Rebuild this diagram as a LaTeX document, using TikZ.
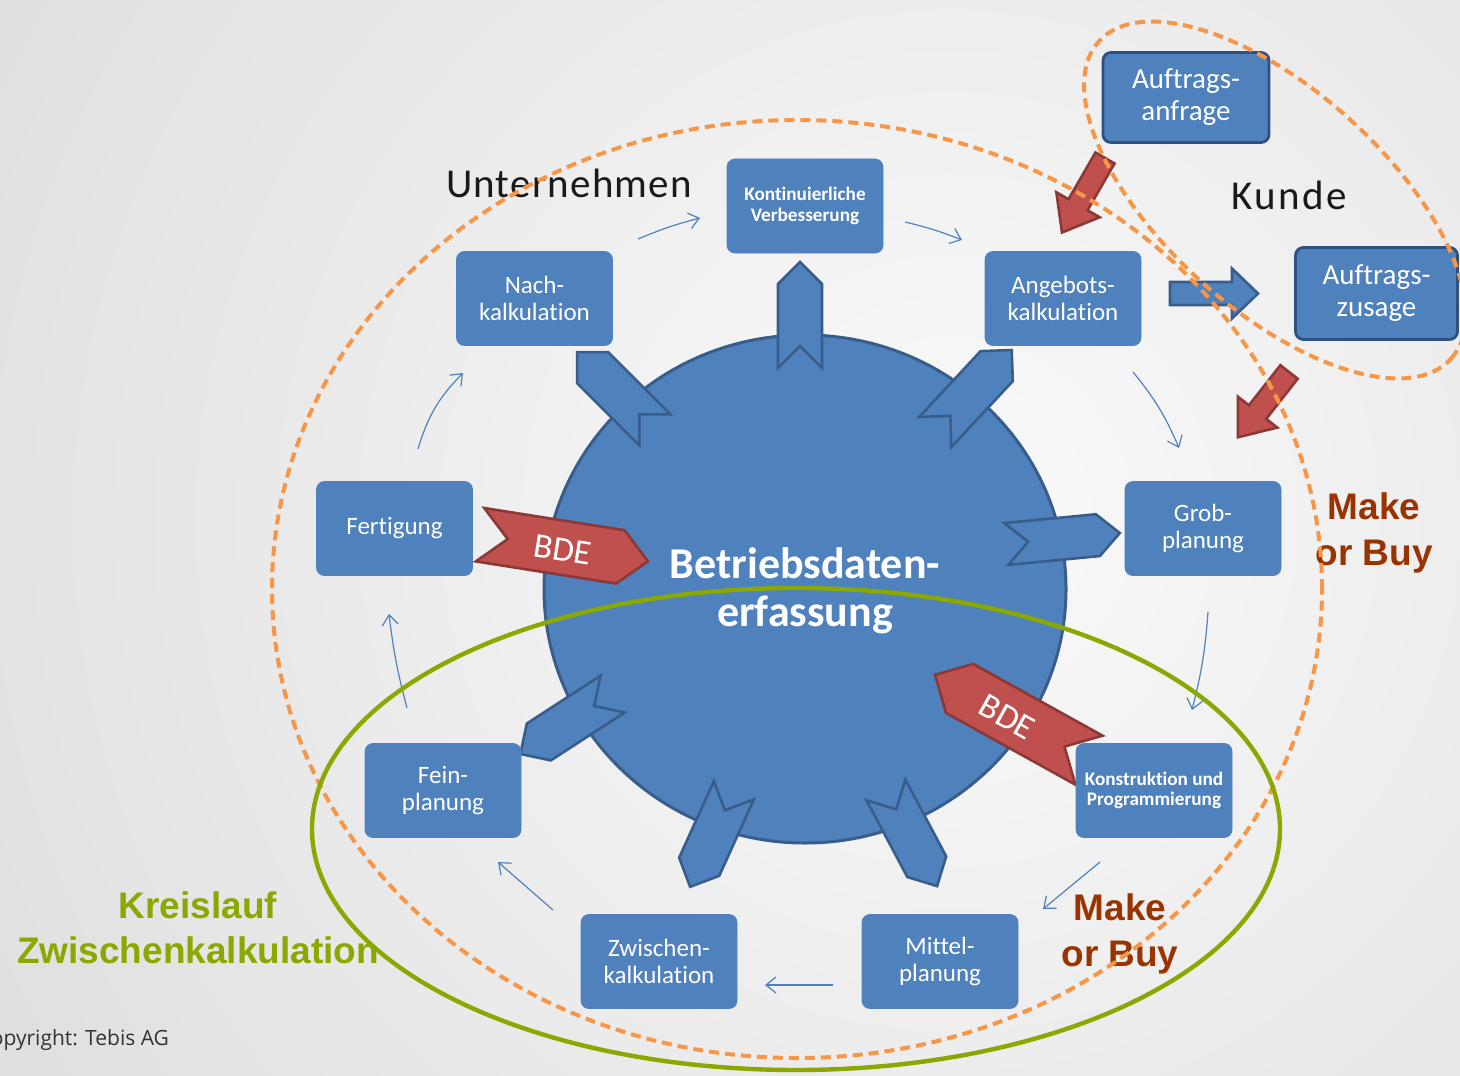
\documentclass[tikz,border=0pt]{standalone}
\usepackage{fontspec}
\setmainfont{Carlito}[Ligatures=NoCommon]
\newfontfamily\arialfont{Liberation Sans}
\newfontfamily\copyfont{Open Sans}
\usetikzlibrary{arrows.meta,shapes.geometric}

\definecolor{boxblue}{HTML}{4F81BD}
\definecolor{boxedge}{HTML}{385D8A}
\definecolor{custedge}{HTML}{2C5182}
\definecolor{redfill}{HTML}{C0504D}
\definecolor{rededge}{HTML}{8C3836}
\definecolor{orangedash}{HTML}{F79646}
\definecolor{kreisgreen}{HTML}{8AA800}
\definecolor{makebuy}{HTML}{993300}
\definecolor{bgedge}{HTML}{C9C9C9}
\definecolor{bgcenter}{HTML}{FAFAFA}

\tikzset{
  procbox/.style={rounded corners=4pt, fill=boxblue, draw=boxblue, minimum width=78pt,
    minimum height=47pt, inner sep=0pt, align=center, text=white,
    font=\fontsize{12.5}{13.5}\selectfont},
  smallbox/.style={procbox, font=\bfseries\fontsize{9.6}{10.3}\selectfont},
  custbox/.style={procbox, draw=custedge, line width=1.4pt,
    font=\fontsize{14.5}{16}\selectfont},
  flow/.style={draw=boxblue, line width=0.6pt, -{Straight Barb[length=5pt,width=8pt]}},
  bluechev/.style={fill=boxblue, draw=boxedge, line width=1.3pt, line join=miter},
  redchev/.style={fill=redfill, draw=rededge, line width=1.3pt, line join=miter},
  dashring/.style={draw=orangedash, line width=2pt, dash pattern=on 5pt off 3pt},
  greenring/.style={draw=kreisgreen, line width=2.2pt},
  makelabel/.style={text=makebuy, align=center, font=\arialfont\bfseries\fontsize{18.5}{23}\selectfont},
  bdelabel/.style={text=white, font=\fontsize{17.5}{18}\selectfont},
}

\newcommand{\chevron}[7]{%
  \begin{scope}[shift={(#1,#2)},rotate=#3]
    \path[#7] ({-0.5*#4},{-0.5*#5}) -- ({0.5*#4-#6},{-0.5*#5}) -- ({0.5*#4},0)
      -- ({0.5*#4-#6},{0.5*#5}) -- ({-0.5*#4},{0.5*#5}) -- ({-0.5*#4+#6},0) -- cycle;
  \end{scope}}

\newcommand{\blockarrow}[8]{%
  \begin{scope}[shift={(#1,#2)},rotate=#3]
    \path[#8] (0,{-0.5*#5}) -- ({#4-#7},{-0.5*#5}) -- ({#4-#7},{-0.5*#6}) -- (#4,0)
      -- ({#4-#7},{0.5*#6}) -- ({#4-#7},{0.5*#5}) -- (0,{0.5*#5}) -- cycle;
  \end{scope}}

\begin{document}
\begin{tikzpicture}[x=0.5pt,y=-0.5pt]
\useasboundingbox (0,0) rectangle (1460,1075);
\begin{scope}
\clip (0,0) rectangle (1460,1075);

% background
\fill[bgedge] (0,0) rectangle (1460,1075);
\shade[inner color=bgcenter, outer color=bgedge] (950,520) circle (1000pt);

% central disc
\node[draw=boxedge, fill=boxblue, line width=1.5pt, ellipse, minimum width=261pt,
  minimum height=254pt, inner sep=0pt] (disc) at (805,589) {};

% blue chevrons
\chevron{800}{315}{90}{106}{44}{22}{bluechev}
\chevron{616}{391}{135}{110}{44}{22}{bluechev}
\chevron{973.5}{391}{47}{112}{44}{22}{bluechev}
\chevron{1063}{538.5}{5.5}{114}{42}{22}{bluechev}
\chevron{911.5}{838}{-62}{109}{44}{22}{bluechev}
\chevron{712}{838.5}{245.6}{106}{44}{22}{bluechev}
\chevron{566.5}{724}{213}{110}{44}{22}{bluechev}

% red BDE chevrons
\chevron{564}{548}{-9}{170}{54}{28}{redchev}
\chevron{1012}{717.5}{151}{176}{56}{28}{redchev}
\node[bdelabel, rotate=-9] (bdeA) at (563,550) {BDE};
\node[bdelabel, rotate=-29] (bdeB) at (1007,717) {BDE};

% process boxes
\node[smallbox] (kont) at (805,206) {Kontinuierliche\\Verbesserung};
\node[procbox] (nach) at (534.5,298.5) {Nach-\\kalkulation};
\node[procbox] (angebot) at (1063,298.5) {Angebots-\\kalkulation};
\node[procbox] (fert) at (394.5,528.5) {Fertigung};
\node[procbox] (grob) at (1203,528.5) {Grob-\\planung};
\node[procbox] (fein) at (443,790.5) {Fein-\\planung};
\node[smallbox] (konstr) at (1154,790.5) {Konstruktion und\\Programmierung};
\node[procbox] (zwischen) at (659,961.5) {Zwischen-\\kalkulation};
\node[procbox] (mittel) at (940,961.5) {Mittel-\\planung};
\node[custbox, minimum width=83pt, minimum height=45pt] (anfrage) at (1186,97.5) {Auftrags-\\anfrage};
\node[custbox, minimum width=81pt, minimum height=46pt] (zusage) at (1376.5,293.5) {Auftrags-\\zusage};

% block arrows
\blockarrow{1105}{158}{240}{86}{22}{50}{32}{redchev}
\blockarrow{1289}{372}{231.9}{83}{22}{50}{32}{redchev}
\blockarrow{1170}{293.5}{0}{88}{23}{50}{26}{bluechev}

% thin flow arrows
\coordinate (f1s) at (418,449); \coordinate (f1e) at (463,373);
\coordinate (f2s) at (638,239); \coordinate (f2e) at (700,218);
\coordinate (f3s) at (905,222); \coordinate (f3e) at (962,240);
\coordinate (f4s) at (1133,372); \coordinate (f4e) at (1179,448);
\coordinate (f5s) at (1208,612); \coordinate (f5e) at (1192,710);
\coordinate (f6s) at (1100,862); \coordinate (f6e) at (1043,909);
\coordinate (f7s) at (833,985); \coordinate (f7e) at (765,985);
\coordinate (f8s) at (553,910); \coordinate (f8e) at (498,862);
\coordinate (f9s) at (407,708); \coordinate (f9e) at (389,614);
\draw[flow] (f1s) to[bend left=14] (f1e);
\draw[flow] (f2s) to[bend left=4] (f2e);
\draw[flow] (f3s) to[bend left=4] (f3e);
\draw[flow] (f4s) to[bend left=8] (f4e);
\draw[flow] (f5s) to[bend left=5] (f5e);
\draw[flow] (f6s) to (f6e);
\draw[flow] (f7s) to (f7e);
\draw[flow] (f8s) to (f8e);
\draw[flow] (f9s) to[bend left=4] (f9e);

% labels
\node[font=\addfontfeature{LetterSpace=3}\fontsize{20.5}{22}\selectfont, text=black!90] (unt) at (569,183) {Unternehmen};
\node[font=\addfontfeature{LetterSpace=6}\fontsize{20.5}{22}\selectfont, text=black!90] (kunde) at (1289,195) {Kunde};
\node[makelabel] (mb1) at (1374,533) {Make\\or Buy};
\node[makelabel] (mb2) at (1120,934) {Make\\or Buy};
\node[text=kreisgreen, align=center, font=\arialfont\bfseries\fontsize{18.5}{22.5}\selectfont] (kreis) at (198,928) {Kreislauf\\Zwischenkalkulation};
\node[anchor=base east, text=black!80, font=\copyfont\fontsize{10.5}{12}\selectfont] (copy) at (176,1045) {Copyright: Tebis AG};

% rings
\draw[dashring] (797,589) ellipse [x radius=262.5pt, y radius=234.5pt];
\draw[dashring, rotate around={-42:(1275,200)}] (1275,200) ellipse [x radius=118.5pt, y radius=55pt];
\draw[greenring] (796,829) ellipse [x radius=242pt, y radius=120.5pt];

% centre title
\node[text=white, align=center, font=\bfseries\fontsize{22}{24}\selectfont] (title) at (805,591) {Betriebsdaten-\\erfassung};
\end{scope}
\end{tikzpicture}
\end{document}
